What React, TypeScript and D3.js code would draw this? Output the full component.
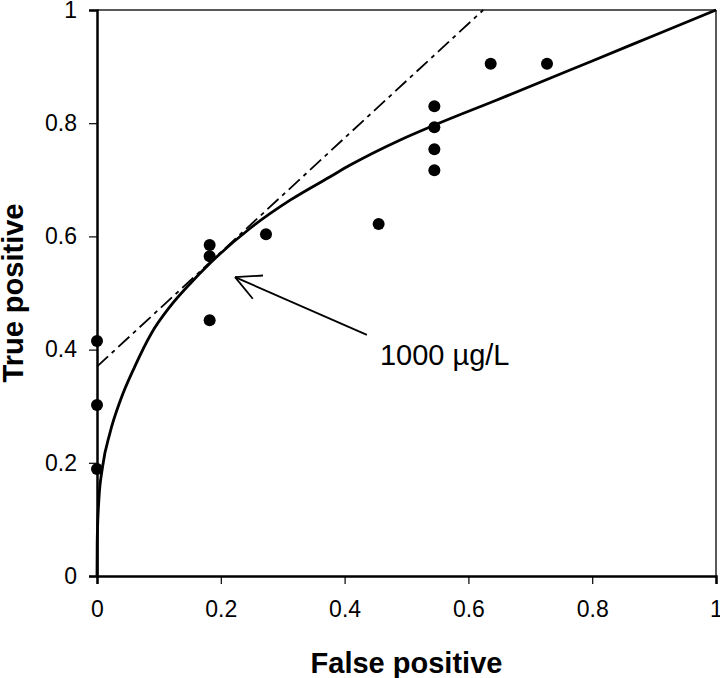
import React, { useEffect, useRef } from "react";
import * as d3 from "d3";

// Observed points (false positive, true positive)
const pointFP = [0, 0, 0, 0.182, 0.182, 0.182, 0.273, 0.455, 0.545, 0.545, 0.545, 0.545, 0.636, 0.727];
const pointTP = [0.415, 0.302, 0.189, 0.585, 0.565, 0.452, 0.604, 0.622, 0.830, 0.793, 0.754, 0.717, 0.905, 0.905];

// Fitted ROC curve
const curveFP = [0, 0.0003, 0.003, 0.009, 0.021, 0.038, 0.061, 0.088, 0.118, 0.15, 0.183, 0.247, 0.312, 0.376, 0.409, 0.489, 0.546, 0.646, 0.8, 0.9, 1];
const curveTP = [0, 0.06, 0.134, 0.193, 0.253, 0.311, 0.37, 0.429, 0.476, 0.516, 0.553, 0.614, 0.664, 0.705, 0.726, 0.77, 0.797, 0.841, 0.91, 0.955, 1];

// Tangent (dash-dot) line
const tangentFP = [0, 0.624];
const tangentTP = [0.37, 1];

const xTicks = [0, 0.2, 0.4, 0.6, 0.8, 1];
const yTicks = [0, 0.2, 0.4, 0.6, 0.8, 1];

const annotationText = "1000 µg/L";
const arrowTip = [0.223, 0.528];
const arrowTail = [0.436, 0.426];
const labelPos = [0.457, 0.373];

export default function App() {
  const ref = useRef<SVGSVGElement>(null);

  useEffect(() => {
    document.body.style.margin = "0";
    const svg = d3.select(ref.current);
    svg.selectAll("*").remove();

    const x = d3.scaleLinear().domain([0, 1]).range([97, 716]);
    const y = d3.scaleLinear().domain([0, 1]).range([576, 10]);
    const font = "Arial, 'Liberation Sans', sans-serif";

    svg.append("rect").attr("width", 720).attr("height", 678).attr("fill", "#fff");

    // frame top/right
    svg.append("line").attr("x1", x(0)).attr("x2", x(1)).attr("y1", y(1)).attr("y2", y(1))
      .attr("stroke", "#222").attr("stroke-width", 1.5);
    svg.append("line").attr("x1", x(1)).attr("x2", x(1)).attr("y1", y(1)).attr("y2", y(0))
      .attr("stroke", "#222").attr("stroke-width", 1.5);

    // axes
    const gx = svg.append("g").attr("transform", `translate(0,${y(0)})`)
      .call(d3.axisBottom(x).tickValues(xTicks).tickSize(8).tickFormat((d: any) => String(+(+d).toFixed(1)) as any));
    gx.select(".domain").attr("stroke", "#000").attr("stroke-width", 2.5);
    gx.selectAll(".tick line").attr("stroke", "#000").attr("stroke-width", 1.2);
    gx.selectAll(".tick text").attr("font-family", font).attr("font-size", 23).attr("fill", "#000").attr("dy", "1.3em");

    const gy = svg.append("g").attr("transform", `translate(${x(0)},0)`)
      .call(d3.axisLeft(y).tickValues(yTicks).tickSize(8).tickFormat((d: any) => String(+(+d).toFixed(1)) as any));
    gy.select(".domain").attr("stroke", "#000").attr("stroke-width", 2.5);
    gy.selectAll(".tick line").attr("stroke", "#000").attr("stroke-width", 1.2);
    gy.selectAll(".tick text").attr("font-family", font).attr("font-size", 23).attr("fill", "#000").attr("x", -20);

    // tangent dash-dot line
    const tangent = tangentFP.map((v, i) => [v, tangentTP[i]] as [number, number]);
    svg.append("path").attr("d", d3.line<[number, number]>().x(d => x(d[0])).y(d => y(d[1]))(tangent))
      .attr("fill", "none").attr("stroke", "#000").attr("stroke-width", 1.8)
      .attr("stroke-dasharray", "15,5,4,5");

    // ROC curve
    const curve = curveFP.map((v, i) => [v, curveTP[i]] as [number, number]);
    svg.append("path")
      .attr("d", d3.line<[number, number]>().x(d => x(d[0])).y(d => y(d[1])).curve(d3.curveMonotoneX)(curve))
      .attr("fill", "none").attr("stroke", "#000").attr("stroke-width", 2.8);

    // points
    svg.selectAll("circle.pt").data(pointFP.map((v, i) => [v, pointTP[i]]))
      .enter().append("circle").attr("class", "pt")
      .attr("cx", d => x(d[0])).attr("cy", d => y(d[1])).attr("r", 6).attr("fill", "#000");

    // arrow
    const tx = x(arrowTip[0]), ty = y(arrowTip[1]);
    const lx = x(arrowTail[0]), ly = y(arrowTail[1]);
    svg.append("line").attr("x1", lx).attr("y1", ly).attr("x2", tx).attr("y2", ty)
      .attr("stroke", "#000").attr("stroke-width", 1.8);
    const ang = Math.atan2(ly - ty, lx - tx);
    const len = 28, spread = (27 * Math.PI) / 180;
    [ang - spread, ang + spread].forEach(a => {
      svg.append("line").attr("x1", tx).attr("y1", ty)
        .attr("x2", tx + len * Math.cos(a)).attr("y2", ty + len * Math.sin(a))
        .attr("stroke", "#000").attr("stroke-width", 1.8);
    });

    svg.append("text").attr("x", x(labelPos[0])).attr("y", y(labelPos[1]))
      .attr("font-family", font).attr("font-size", 29).attr("fill", "#000").text(annotationText);

    // axis titles
    svg.append("text").attr("x", (x(0) + x(1)) / 2).attr("y", 673).attr("text-anchor", "middle")
      .attr("font-family", font).attr("font-size", 29).attr("font-weight", "bold").text("False positive");
    svg.append("text").attr("transform", `translate(23,${(y(0) + y(1)) / 2}) rotate(-90)`)
      .attr("text-anchor", "middle")
      .attr("font-family", font).attr("font-size", 29).attr("font-weight", "bold").text("True positive");
  }, []);

  return <svg ref={ref} width={720} height={678} style={{ display: "block" }} />;
}
